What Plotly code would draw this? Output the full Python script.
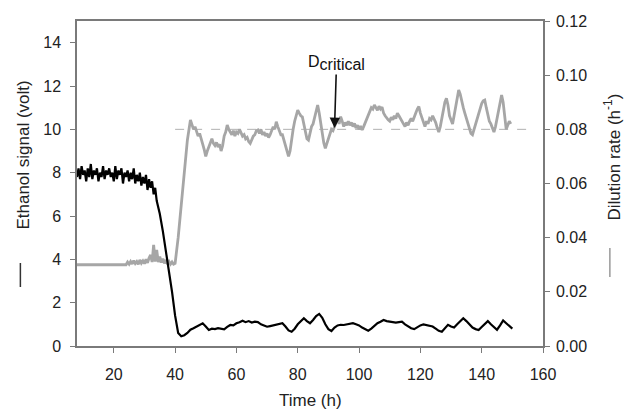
import numpy as np
import plotly.graph_objects as go

# ---------------- data ----------------
# Ethanol signal (volt), left axis
eth_plateau_start = 8.0
eth_plateau_step = 0.5
eth_plateau = [7.8, 8.2, 7.7, 8.3, 7.9, 8.1, 7.6, 8.2, 7.8, 8.4,
               7.7, 8.1, 7.9, 8.2, 7.6, 8.0, 7.8, 8.3, 7.7, 8.1,
               7.9, 8.2, 7.8, 8.0, 7.6, 8.3, 7.7, 8.1, 7.9, 8.2,
               7.5, 8.0, 7.8, 8.1, 7.6, 8.0, 7.7, 8.2, 7.5, 7.9,
               7.6, 8.0, 7.4, 7.8, 7.5, 7.9, 7.2, 7.7, 7.3, 7.6,
               7.0, 7.3]
eth_drop_t = [34, 35, 36, 37, 38, 39, 40, 41, 42]
eth_drop = [6.7, 6.1, 5.3, 4.4, 3.5, 2.5, 1.4, 0.6, 0.45]
eth_tail_start = 43
eth_tail = [0.50, 0.60, 0.75, 0.82, 0.90, 0.98, 1.05, 0.90, 0.74, 0.80,
            0.78, 0.82, 0.80, 0.77, 0.88, 0.97, 0.95, 1.05, 1.10, 1.17,
            1.10, 1.15, 1.08, 1.12, 1.10, 1.00, 0.95, 0.89, 0.92, 0.95,
            1.00, 1.02, 1.05, 0.90, 0.72, 0.66, 0.80, 1.00, 1.15, 1.28,
            1.15, 1.05, 1.20, 1.38, 1.48, 1.30, 1.00, 0.78, 0.69, 0.85,
            0.95, 0.98, 0.97, 1.00, 1.02, 1.05, 1.00, 0.95, 0.85, 0.78,
            0.71, 0.80, 0.95, 1.05, 1.12, 1.20, 1.15, 1.12, 1.10, 1.08,
            1.10, 1.12, 1.00, 0.90, 0.82, 0.78, 0.88, 0.95, 1.00, 0.96,
            0.94, 0.90, 0.80, 0.70, 0.66, 0.80, 0.98, 0.90, 0.85, 1.00,
            1.15, 1.28, 1.15, 1.00, 0.85, 0.78, 0.74, 0.88, 1.00, 1.15,
            1.00, 0.85, 0.75, 0.95, 1.18, 1.05, 0.90, 0.80]

# Dilution rate (1/h), right axis
dil_const_t = [8, 24]
dil_const = [0.030, 0.030]
dil_lag_start = 24.0
dil_lag_step = 0.5
dil_lag = [0.0300, 0.0310, 0.0302, 0.0312, 0.0303, 0.0315, 0.0305, 0.0312,
           0.0302, 0.0318, 0.0306, 0.0314, 0.0304, 0.0320, 0.0307, 0.0325,
           0.0336, 0.0310, 0.0373, 0.0312, 0.0355, 0.0310, 0.0330, 0.0308,
           0.0322, 0.0305, 0.0318, 0.0303, 0.0312, 0.0302, 0.0310, 0.0302,
           0.0305]
dil_rise_t = [41, 42, 43, 44]
dil_rise = [0.040, 0.052, 0.064, 0.076]
dil_run_start = 45.0
dil_run_step = 0.5
dil_run = [0.0835, 0.0815, 0.0800, 0.0810, 0.0790, 0.0775, 0.0785, 0.0760, 0.0745, 0.0725,
           0.0700, 0.0720, 0.0735, 0.0750, 0.0765, 0.0748, 0.0740, 0.0752, 0.0735, 0.0745,
           0.0720, 0.0740, 0.0775, 0.0790, 0.0816, 0.0800, 0.0790, 0.0780, 0.0795, 0.0775,
           0.0790, 0.0785, 0.0800, 0.0790, 0.0775, 0.0780, 0.0765, 0.0770, 0.0755, 0.0748,
           0.0765, 0.0775, 0.0780, 0.0795, 0.0798, 0.0785, 0.0800, 0.0780, 0.0790, 0.0775,
           0.0785, 0.0770, 0.0780, 0.0795, 0.0810, 0.0800, 0.0828, 0.0810, 0.0795, 0.0780,
           0.0780, 0.0760, 0.0740, 0.0720, 0.0700, 0.0720, 0.0770, 0.0800, 0.0830, 0.0855,
           0.0871, 0.0860, 0.0850, 0.0846, 0.0820, 0.0790, 0.0765, 0.0760, 0.0790, 0.0810,
           0.0820, 0.0845, 0.0870, 0.0890, 0.0860, 0.0820, 0.0790, 0.0750, 0.0730, 0.0750,
           0.0770, 0.0790, 0.0800, 0.0795, 0.0810, 0.0830, 0.0840, 0.0820, 0.0847, 0.0830,
           0.0810, 0.0825, 0.0815, 0.0830, 0.0815, 0.0825, 0.0810, 0.0822, 0.0805, 0.0815,
           0.0800, 0.0812, 0.0798, 0.0810, 0.0825, 0.0840, 0.0850, 0.0865, 0.0880, 0.0875,
           0.0890, 0.0880, 0.0870, 0.0885, 0.0875, 0.0882, 0.0860, 0.0850, 0.0840, 0.0835,
           0.0830, 0.0845, 0.0835, 0.0850, 0.0840, 0.0860, 0.0850, 0.0840, 0.0825, 0.0815,
           0.0810, 0.0825, 0.0815, 0.0830, 0.0840, 0.0830, 0.0850, 0.0860, 0.0875, 0.0884,
           0.0860, 0.0840, 0.0825, 0.0810, 0.0830, 0.0820, 0.0840, 0.0835, 0.0850, 0.0840,
           0.0825, 0.0805, 0.0790, 0.0810, 0.0840, 0.0870, 0.0900, 0.0915, 0.0890, 0.0850,
           0.0830, 0.0820, 0.0850, 0.0880, 0.0910, 0.0945, 0.0930, 0.0900, 0.0880, 0.0860,
           0.0840, 0.0820, 0.0800, 0.0785, 0.0780, 0.0800, 0.0820, 0.0840, 0.0860, 0.0880,
           0.0895, 0.0905, 0.0908, 0.0880, 0.0850, 0.0830, 0.0820, 0.0800, 0.0790, 0.0810,
           0.0840, 0.0870, 0.0900, 0.0927, 0.0900, 0.0850, 0.0800, 0.0815, 0.0830, 0.0820]

# critical dilution rate reference line
dcrit_t = [40, 155]
dcrit_value = 0.08
dcrit_time = 92

x_ticks = [20, 40, 60, 80, 100, 120, 140, 160]
left_ticks = [0, 2, 4, 6, 8, 10, 12, 14]
right_ticks = [0.00, 0.02, 0.04, 0.06, 0.08, 0.10, 0.12]

# ---------------- assemble series ----------------
eth_t = (list(eth_plateau_start + eth_plateau_step * np.arange(len(eth_plateau)))
         + eth_drop_t
         + list(eth_tail_start + np.arange(len(eth_tail))))
eth_v = eth_plateau + eth_drop + eth_tail

dil_t = (dil_const_t
         + list(dil_lag_start + dil_lag_step * np.arange(len(dil_lag)))
         + dil_rise_t
         + list(dil_run_start + dil_run_step * np.arange(len(dil_run))))
dil_v = dil_const + dil_lag + dil_rise + dil_run

FONT = "Liberation Sans, Arial, sans-serif"
AX = "#7a7a7a"
TXT = "#222222"
GRAY = "#a6a6a6"

fig = go.Figure()
fig.add_trace(go.Scatter(x=dcrit_t, y=[dcrit_value] * len(dcrit_t), yaxis="y",
                         mode="lines", line=dict(color="#b0b0b0", width=1, dash="dash"),
                         hoverinfo="skip", showlegend=False))
fig.add_trace(go.Scatter(x=dil_t, y=dil_v, yaxis="y", mode="lines",
                         line=dict(color=GRAY, width=2.8), showlegend=False,
                         name="Dilution rate"))
fig.add_trace(go.Scatter(x=eth_t, y=eth_v, yaxis="y2", mode="lines",
                         line=dict(color="#000000", width=2.2), showlegend=False,
                         name="Ethanol signal"))

fig.update_layout(
    width=625, height=409,
    margin=dict(l=77, r=82, t=21, b=63),
    paper_bgcolor="white", plot_bgcolor="white",
    font=dict(family=FONT, size=16, color=TXT),
    xaxis=dict(range=[8, 160], tickvals=x_ticks, ticks="outside", ticklen=5,
               tickcolor=AX, showline=True, linecolor=AX, linewidth=1.5, mirror=True,
               showgrid=False, zeroline=False, ticklabelstandoff=8,
               tickfont=dict(size=16, color=TXT)),
    yaxis=dict(range=[0, 0.12], side="right", tickvals=right_ticks, tickformat=".2f",
               ticks="outside", ticklen=5, tickcolor=AX, showline=True, linecolor=AX,
               linewidth=1.5, showgrid=False, zeroline=False, ticklabelstandoff=3,
               tickfont=dict(size=16, color=TXT)),
    yaxis2=dict(range=[0, 15], side="left", overlaying="y", tickvals=left_ticks,
                ticks="outside", ticklen=5, tickcolor=AX, showline=True, linecolor=AX,
                linewidth=1.5, showgrid=False, zeroline=False, ticklabelstandoff=6,
                tickfont=dict(size=16, color=TXT)),
)

# axis titles
fig.add_annotation(text="Time (h)", xref="paper", yref="paper", x=0.5, y=-0.169,
                   xanchor="center", yanchor="middle", showarrow=False,
                   font=dict(size=17, color=TXT))
fig.add_annotation(text="Ethanol signal (volt)", xref="paper", yref="paper",
                   x=-0.1137, y=0.586, textangle=-90, xanchor="center", yanchor="middle",
                   showarrow=False, font=dict(size=17, color=TXT))
fig.add_annotation(text="Dilution rate (h<sup>-1</sup>)", xref="paper", yref="paper",
                   x=1.148, y=0.583, textangle=-90, xanchor="center", yanchor="middle",
                   showarrow=False, font=dict(size=17, color=TXT))
# line-key symbols next to the axis titles
fig.add_shape(type="line", xref="paper", yref="paper", x0=-0.1215, x1=-0.1215,
              y0=0.1815, y1=0.2554, line=dict(color="#333333", width=1.5))
fig.add_shape(type="line", xref="paper", yref="paper", x0=1.1435, x1=1.1435,
              y0=0.2123, y1=0.3015, line=dict(color="#999999", width=1.5))

# D_critical label with arrow
fig.add_annotation(text="D<sub><span style='font-size:16px'>critical</span></sub>",
                   x=dcrit_time, y=dcrit_value + 0.0005, yref="y",
                   ax=2, ay=-65, showarrow=True, arrowhead=2, arrowsize=1.3,
                   arrowwidth=1.6, arrowcolor="#111111", standoff=0, startstandoff=0,
                   font=dict(size=16, color="#111111"))

fig.write_html("out.html", config={"displayModeBar": False},
               post_script="document.body.style.margin='0';"
               "document.body.style.padding='0';")
